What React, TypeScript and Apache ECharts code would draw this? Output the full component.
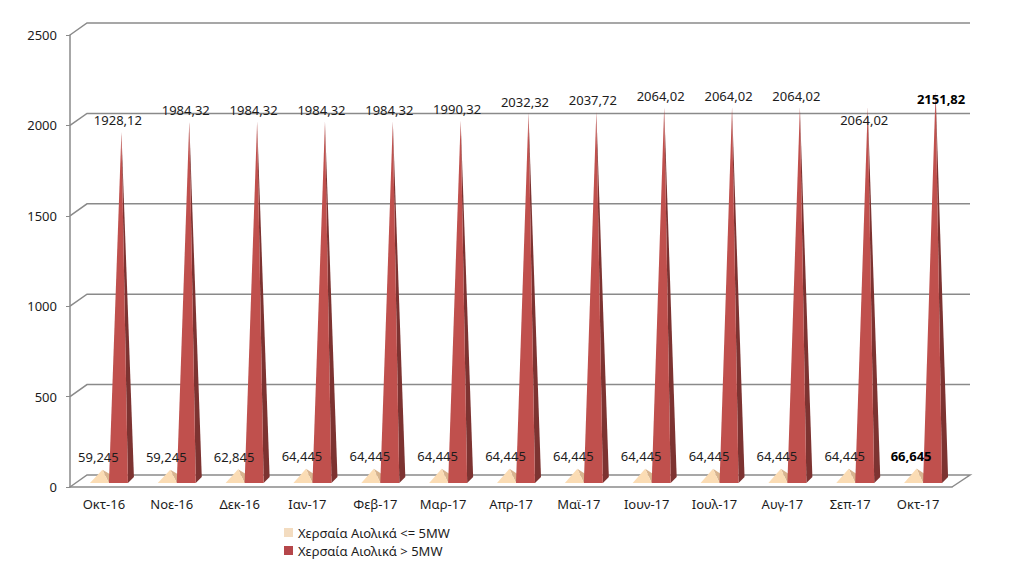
import React, { useEffect, useRef } from "react";
import * as echarts from "echarts";

const categories = ["Οκτ-16","Νοε-16","Δεκ-16","Ιαν-17","Φεβ-17","Μαρ-17","Απρ-17","Μαϊ-17","Ιουν-17","Ιουλ-17","Αυγ-17","Σεπ-17","Οκτ-17"];
const smallWind = [59.245,59.245,62.845,64.445,64.445,64.445,64.445,64.445,64.445,64.445,64.445,64.445,66.645];
const largeWind = [1928.12,1984.32,1984.32,1984.32,1984.32,1990.32,2032.32,2037.72,2064.02,2064.02,2064.02,2064.02,2151.82];
const ticks = [0,500,1000,1500,2000,2500];
const smallName = "Χερσαία Αιολικά <= 5MW";
const largeName = "Χερσαία Αιολικά > 5MW";
const largeLabelDy = [-12,-12,-12,-12,-12,-12,-11,-12,-11,-11,-11,13,8];
const font = "Noto Sans";
const textColor = "#1c1c1c";
const lineColor = "#8a8a8a";

function fmt(v: number) { return String(v).replace(".", ","); }

function pyramid(series: number, front: string, side: string) {
  return (_p: any, api: any) => {
    const i = api.value(0), v = api.value(1);
    const c = api.coord([i, 0]);
    const top = api.coord([i, v]);
    const cx = series === 0 ? c[0] - 4.5 : c[0] + 14.5;
    const hw = 9.5, d = 6;
    const yf = c[1] - 4, yb = yf - d;
    const ax = cx + d / 2, ay = top[1] - 6.5;
    return {
      type: "group",
      children: [
        { type: "polygon", shape: { points: [[cx + hw, yf], [cx + hw + d, yb], [ax, ay]] }, style: { fill: side } },
        { type: "polygon", shape: { points: [[cx - hw, yf], [cx + hw, yf], [ax, ay]] }, style: { fill: front } },
      ],
    };
  };
}

function labels(series: number) {
  return (_p: any, api: any) => {
    const i = api.value(0), v = api.value(1);
    const c = api.coord([i, v]);
    const last = i === categories.length - 1;
    const dx = series === 0 ? (last ? -7 : -5.5) : (last ? 23 : 14);
    const dy = series === 0 ? -19 : largeLabelDy[i] - 6.5;
    return {
      type: "text",
      style: {
        x: c[0] + dx, y: c[1] + dy,
        text: fmt(v), align: "center", verticalAlign: "middle",
        font: `${last ? "bold " : ""}13px "${font}"`,
        fill: last ? "#000" : textColor,
      },
    };
  };
}

export default function App() {
  const ref = useRef<HTMLDivElement>(null);
  useEffect(() => {
    const chart = echarts.init(ref.current!, undefined, { renderer: "svg" });
    chart.setOption({
      animation: false,
      backgroundColor: "#fff",
      textStyle: { fontFamily: font },
      grid: { left: 70, top: 35, width: 882, height: 452 },
      legend: {
        orient: "vertical", left: 284, top: 525, padding: 0, itemWidth: 9, itemHeight: 9, itemGap: 3,
        icon: "rect",
        textStyle: { fontFamily: font, fontSize: 13, color: textColor, lineHeight: 15 },
        data: [
          { name: smallName, itemStyle: { color: "#f3dcc0" } },
          { name: largeName, itemStyle: { color: "#b5464a" } },
        ],
        selectedMode: false,
      },
      xAxis: {
        type: "category", data: categories,
        axisLine: { lineStyle: { color: lineColor, width: 1.5 } },
        axisTick: { length: 4, lineStyle: { color: lineColor } },
        axisLabel: { color: textColor, fontSize: 13, fontFamily: font, margin: 10 },
      },
      yAxis: {
        type: "value", min: 0, max: 2500, interval: 500,
        axisLine: { show: true, lineStyle: { color: lineColor, width: 1.5 } },
        axisTick: { show: true, length: 4, lineStyle: { color: lineColor } },
        axisLabel: { color: textColor, fontSize: 13, fontFamily: font, margin: 13, formatter: (v: number) => String(v) },
        splitLine: { show: false },
      },
      series: [
        {
          type: "custom", z: 1, silent: true, clip: false,
          encode: { x: 0, y: 1 },
          data: ticks.map((t) => [0, t]),
          renderItem: (p: any, api: any) => {
            const y = api.coord([0, api.value(1)])[1];
            const l = p.coordSys.x, r = l + p.coordSys.width;
            const pts = [[l, y], [l + 17, y - 12], [r + 18, y - 12]];
            if (api.value(1) === 0) pts.push([r, y]);
            return { type: "polyline", shape: { points: pts }, style: { stroke: lineColor, lineWidth: 1.5, fill: "none" } };
          },
        },
        {
          name: smallName, type: "custom", z: 2, clip: false, encode: { x: 0, y: 1 },
          data: smallWind.map((v, i) => [i, v]),
          renderItem: pyramid(0, "#fbdcb4", "#d8b48f"),
        },
        {
          name: largeName, type: "custom", z: 3, clip: false, encode: { x: 0, y: 1 },
          data: largeWind.map((v, i) => [i, v]),
          renderItem: pyramid(1, "#c0504d", "#7d3331"),
        },
        { type: "custom", z: 5, clip: false, encode: { x: 0, y: 1 }, data: smallWind.map((v, i) => [i, v]), renderItem: labels(0) },
        { type: "custom", z: 5, clip: false, encode: { x: 0, y: 1 }, data: largeWind.map((v, i) => [i, v]), renderItem: labels(1) },
      ],
    });
    return () => chart.dispose();
  }, []);
  return <div ref={ref} style={{ position: "absolute", left: 0, top: 0, width: 1024, height: 561 }} />;
}
